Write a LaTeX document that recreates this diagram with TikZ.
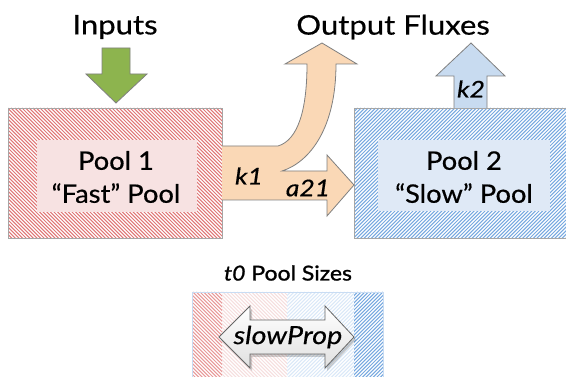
\documentclass[tikz,border=0pt]{standalone}
\usepackage{fontspec}
\setmainfont{Lato}
\newfontfamily\avw{Lato}[FakeStretch=1.15, FakeBold=0.5]
\newfontfamily\avp{Lato}[FakeStretch=1.07, FakeBold=0.5]
\newfontfamily\avb{Lato}[FakeStretch=1.12, FakeBold=1.2]
\begin{document}
\begin{tikzpicture}[x=1pt,y=-1pt,
  lbl/.style={inner sep=0pt, font=\avw\fontsize{27}{28}\selectfont},
  pooltxt/.style={inner sep=0pt, align=center, font=\avp\fontsize{25.5}{33}\selectfont},
  flux/.style={inner sep=0pt, font=\avw\fontsize{23}{24}\selectfont\itshape},
  arrowline/.style={draw=black!50, line width=0.8pt, line join=miter},
  boxline/.style={draw=black!35, line width=0.8pt},
  hatch/.style={line width=1.05pt}]
\definecolor{hred}{RGB}{224,118,118}
\definecolor{hblue}{RGB}{118,168,224}
\definecolor{inred}{RGB}{247,226,226}
\definecolor{inblue}{RGB}{223,233,246}
\definecolor{peach}{RGB}{250,216,182}
\definecolor{green}{RGB}{141,180,78}
\definecolor{kblue}{RGB}{200,219,240}
\definecolor{fred}{RGB}{246,222,222}
\definecolor{fblue}{RGB}{218,232,248}
\useasboundingbox (0,0) rectangle (566,377);
\fill[white] (0,0) rectangle (566,377);

% Pool 1
\begin{scope}
\clip (8,108) rectangle (222,238);
\foreach \x in {-130,-126.4,...,230} \draw[hred, hatch] ({8+\x},108) -- ++(135,135);
\end{scope}
\node[boxline, minimum width=214pt, minimum height=130pt, inner sep=0pt] (p1) at (115,173) {};
\node[fill=inred, minimum width=160pt, minimum height=72pt, inner sep=0pt] (p1in) at (116.5,176) {};
\node[pooltxt] (p1t) at (116,177) {Pool 1\\“Fast” Pool};

% Pool 2
\begin{scope}
\clip (354,108) rectangle (570,238);
\foreach \x in {0,3.6,...,360} \draw[hblue, hatch] ({354+\x},108) -- ++(-135,135);
\end{scope}
\node[boxline, minimum width=216pt, minimum height=130pt, inner sep=0pt] (p2) at (462,173) {};
\node[fill=inblue, minimum width=172pt, minimum height=71pt, inner sep=0pt] (p2in) at (464,175.5) {};
\node[pooltxt] (p2t) at (464,177) {Pool 2\\“Slow” Pool};

% titles
\node[lbl] (inp) at (115,27) {Inputs};
\node[lbl] (out) at (393,27) {Output Fluxes};

% Input arrow
\coordinate (ga) at (116,103);
\draw[arrowline, fill=green] (102,48) -- (130,48) -- (130,74) -- (147,74) -- (ga) -- (86,74) -- (102,74) -- cycle;

% k2 arrow
\coordinate (kb) at (471,43);
\draw[arrowline, fill=kblue] (454,108) -- (454,76) -- (436,76) -- (kb) -- (505,76) -- (487,76) -- (487,108);
\node[flux] (k2) at (471,89) {k2};

% flux arrow k1 / a21
\coordinate (ftip) at (354,185);
\coordinate (otip) at (322,43);
\draw[arrowline, fill=peach] (222,146) -- (278,146) .. controls (298,140) and (307,110) .. (307,64)
  -- (285,64) -- (otip) -- (357,64) -- (336,64) .. controls (336,128) and (310,162) .. (282,171)
  -- (327,171) -- (327,155) -- (ftip) -- (327,216) -- (327,200) -- (222,200);
\node[flux] (k1) at (249,176) {k1};
\node[flux] (a21) at (308,188) {a21};

% bottom box
\node[inner sep=0pt, font=\avb\fontsize{20.5}{24}\selectfont] (t0) at (288,273) {\textit{t0} Pool Sizes};
\begin{scope}
\clip (192,292) rectangle (222,380);
\foreach \x in {-100,-96.4,...,40} \draw[hred!75, hatch] ({192+\x},292) -- ++(100,100);
\end{scope}
\begin{scope}
\clip (222,292) rectangle (287,380);
\foreach \x in {-100,-96.4,...,70} \draw[fred, hatch] ({222+\x},292) -- ++(100,100);
\end{scope}
\begin{scope}
\clip (287,292) rectangle (354,380);
\foreach \x in {0,3.6,...,170} \draw[fblue, hatch] ({287+\x},292) -- ++(-100,100);
\end{scope}
\begin{scope}
\clip (354,292) rectangle (383,380);
\foreach \x in {0,3.6,...,130} \draw[hblue, hatch] ({354+\x},292) -- ++(-100,100);
\end{scope}
\draw[draw=hblue!40, line width=0.8pt] (192,380) -- (192,292) -- (383,292) -- (383,380);

% slowProp double arrow
\coordinate (sl) at (219,337);
\coordinate (sr) at (354,337);
\fill[black, opacity=0.18] (221,340) -- (252,309) -- (252,323) -- (327,323) -- (327,309) -- (356,340) -- (327,371) -- (327,357) -- (252,357) -- (252,371) -- cycle;
\shade[top color=white, bottom color=black!12]
  (sl) -- (250,306) -- (250,320) -- (325,320) -- (325,306) -- (sr) -- (325,368) -- (325,354) -- (250,354) -- (250,368) -- cycle;
\draw[black!60, line width=0.8pt, line join=miter] (sl) -- (250,306) -- (250,320) -- (325,320) -- (325,306) -- (sr) -- (325,368) -- (325,354) -- (250,354) -- (250,368) -- cycle;
\node[inner sep=0pt, font=\avw\fontsize{25}{26}\selectfont\itshape] (sp) at (288,337) {slowProp};
\end{tikzpicture}
\end{document}
